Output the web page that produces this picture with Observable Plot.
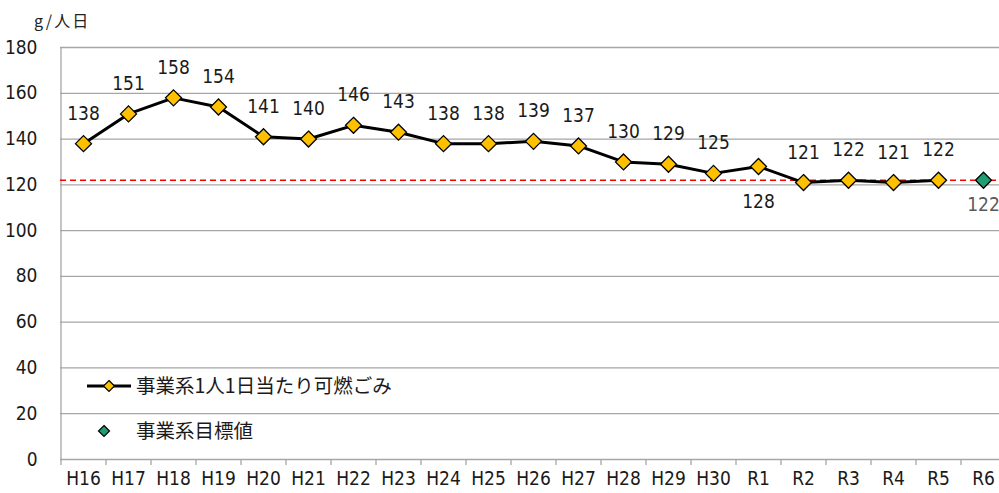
<!DOCTYPE html>
<html><head><meta charset="utf-8">
<script src="https://cdn.jsdelivr.net/npm/d3@7"></script>
<script src="https://cdn.jsdelivr.net/npm/@observablehq/plot@0.6"></script>
<style>
body{margin:0;background:#fff;}
#wrap{position:relative;width:999px;height:493px;}
#unit{position:absolute;left:34px;top:8px;font-size:16px;letter-spacing:2px;color:#222;font-family:"Noto Sans CJK JP",sans-serif;}
svg text{font-stretch:condensed;}
</style></head><body>
<div id="wrap"><div id="unit">g/人日</div></div>
<script>
const categories = ["H16","H17","H18","H19","H20","H21","H22","H23","H24","H25","H26","H27","H28","H29","H30","R1","R2","R3","R4","R5","R6"];
const actual = [138,151,158,154,141,140,146,143,138,138,139,137,130,129,125,128,121,122,121,122];
const target = 122;
const seriesNames = ["事業系1人1日当たり可燃ごみ","事業系目標値"];
const yTicks = [0,20,40,60,80,100,120,140,160,180];
const belowLabels = ["R1"];

const data = actual.map((v,i)=>({i, cat:categories[i], v}));
const targetData = [{i: categories.length-1, v: target}];
const font = `"Liberation Sans Narrow","DejaVu Sans Condensed","DejaVu Sans",sans-serif`;

const chart = Plot.plot({
  width: 999, height: 493,
  marginLeft: 60, marginRight: 0, marginTop: 47, marginBottom: 34,
  style: {fontFamily: font, fontSize: "19px", color: "#1a1a1a", background: "transparent", overflow: "visible"},
  x: {type: "linear", domain: [-0.5, categories.length-0.5], range: [60.5, 1005.5]},
  y: {domain: [0,180]},
  marks: [
    Plot.ruleY(yTicks, {stroke: "#a6a6a6", strokeWidth: 1.3}),
    Plot.ruleX([-0.5], {y1: 0, y2: 180, stroke: "#a6a6a6", strokeWidth: 1.3}),
    Plot.ruleY([target], {stroke: "#ff0000", strokeWidth: 1.5, strokeDasharray: "6,4"}),
    Plot.axisY(yTicks, {tickSize: 0, tickPadding: 23, fontSize: 19, label: null}),
    Plot.axisX(d3.range(categories.length), {tickSize: 0, tickPadding: 12, tickFormat: i => categories[i], fontSize: 19, label: null}),
    Plot.axisX(d3.range(categories.length+1).map(i=>i-0.5), {tickSize: 6, tickFormat: () => "", stroke: "#a6a6a6", strokeWidth: 1.3, label: null}),
    Plot.line(data, {x: "i", y: "v", stroke: "#000", strokeWidth: 3}),
    Plot.dot(data, {x: "i", y: "v", symbol: "diamond2", r: 7.2, fill: "#ffc000", stroke: "#000", strokeWidth: 1.3}),
    Plot.dot(targetData, {x: "i", y: "v", symbol: "diamond2", r: 7.2, fill: "#1f9e73", stroke: "#000", strokeWidth: 1.3}),
    Plot.text(data.filter(d=>!belowLabels.includes(d.cat)), {x: "i", y: "v", text: "v", dy: -30, fontSize: 19, fill: "#1a1a1a"}),
    Plot.text(data.filter(d=>belowLabels.includes(d.cat)), {x: "i", y: "v", text: "v", dy: 35, fontSize: 19, fill: "#1a1a1a"}),
    Plot.text(targetData, {x: "i", y: "v", text: "v", dy: 25, fontSize: 19, fill: "#595959"})
  ]
});
chart.style.position = "absolute";
chart.style.left = "0"; chart.style.top = "0";
document.getElementById("wrap").appendChild(chart);

// legend
const svg = d3.select(chart);
const lg = svg.append("g").attr("font-family", `"Noto Sans CJK JP",sans-serif`).attr("font-size", 19.5).attr("fill", "#1a1a1a").attr("text-anchor", "start");
const diamond = (cx, cy, s, fill) => lg.append("path").attr("d", `M${cx},${cy-s}L${cx+s},${cy}L${cx},${cy+s}L${cx-s},${cy}Z`).attr("fill", fill).attr("stroke", "#000").attr("stroke-width", 1.2);
lg.append("line").attr("x1", 87).attr("x2", 131).attr("y1", 386).attr("y2", 386).attr("stroke", "#000").attr("stroke-width", 3);
diamond(109, 386, 5.5, "#ffc000");
lg.append("text").attr("x", 136).attr("y", 386).attr("dy", "0.35em").text(seriesNames[0]);
diamond(104, 431, 5.5, "#1f9e73");
lg.append("text").attr("x", 136).attr("y", 431).attr("dy", "0.35em").text(seriesNames[1]);
</script>
</body></html>
